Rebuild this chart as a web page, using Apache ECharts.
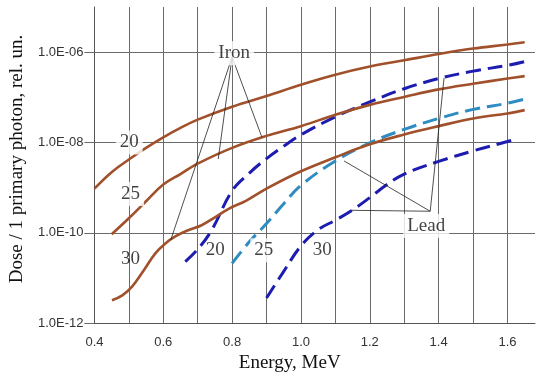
<!DOCTYPE html>
<html>
<head>
<meta charset="utf-8">
<script src="https://cdn.jsdelivr.net/npm/echarts@6/dist/echarts.min.js"></script>
<style>
html,body{margin:0;padding:0;background:#fff;}
#chart{width:538px;height:378px;}
</style>
</head>
<body>
<div id="chart"></div>
<script>
// ---- Data (Energy in MeV, dose per primary photon, rel. un.) ----
const iron20E    = [0.40, 0.45, 0.50, 0.55, 0.60, 0.65, 0.70, 0.80, 0.90, 1.00, 1.10, 1.20, 1.30, 1.40, 1.50, 1.60, 1.65];
const iron20Dose = [9.5e-10, 2.2e-9, 4.2e-9, 7.6e-9, 1.3e-8, 2.1e-8, 3.2e-8, 6.2e-8, 1.07e-7, 1.9e-7, 3.16e-7, 4.8e-7, 6.6e-7, 9.1e-7, 1.2e-6, 1.48e-6, 1.66e-6];

const iron25E    = [0.45, 0.50, 0.55, 0.60, 0.65, 0.70, 0.80, 0.90, 1.00, 1.10, 1.20, 1.30, 1.40, 1.50, 1.60, 1.65];
const iron25Dose = [9.3e-11, 2.1e-10, 5.0e-10, 1.17e-9, 2.0e-9, 3.4e-9, 7.6e-9, 1.4e-8, 2.3e-8, 4.1e-8, 6.8e-8, 1.02e-7, 1.5e-7, 2.0e-7, 2.6e-7, 2.95e-7];

const iron30E    = [0.451, 0.481, 0.510, 0.544, 0.577, 0.606, 0.635, 0.67, 0.71, 0.75, 0.79, 0.84, 0.90, 1.00, 1.10, 1.20, 1.30, 1.40, 1.50, 1.60, 1.65];
const iron30Dose = [3.2e-12, 4.1e-12, 6.5e-12, 1.5e-11, 3.5e-11, 5.8e-11, 8.3e-11, 1.12e-10, 1.45e-10, 2.2e-10, 3.4e-10, 5.1e-10, 9.5e-10, 2.3e-9, 4.7e-9, 9.1e-9, 1.5e-8, 2.3e-8, 3.4e-8, 4.4e-8, 5.2e-8];

const lead20E    = [0.664, 0.70, 0.74, 0.80, 0.85, 0.90, 0.95, 1.00, 1.10, 1.20, 1.30, 1.40, 1.50, 1.60, 1.65];
const lead20Dose = [2.3e-11, 4.3e-11, 1.12e-10, 8.5e-10, 2.1e-9, 4.4e-9, 8.3e-9, 1.48e-8, 3.7e-8, 7.9e-8, 1.55e-7, 2.6e-7, 3.8e-7, 5.1e-7, 6.2e-7];

const lead25E    = [0.80, 0.85, 0.90, 0.95, 1.00, 1.10, 1.20, 1.30, 1.40, 1.50, 1.60, 1.65];
const lead25Dose = [2.1e-11, 6.3e-11, 1.6e-10, 4.4e-10, 1.12e-9, 3.9e-9, 9.8e-9, 1.95e-8, 3.4e-8, 5.4e-8, 7.4e-8, 9.1e-8];

const lead30E    = [0.90, 0.95, 1.00, 1.05, 1.10, 1.15, 1.20, 1.25, 1.30, 1.40, 1.50, 1.60, 1.617];
const lead30Dose = [3.6e-12, 1.4e-11, 5.1e-11, 1.17e-10, 1.9e-10, 3.2e-10, 6.0e-10, 1.17e-9, 2.0e-9, 3.8e-9, 6.5e-9, 1.05e-8, 1.15e-8];

// Annotation texts and their anchor points (data coordinates)
const noteTexts = ['Iron', 'Lead', '20', '25', '30', '20', '25', '30'];
const noteE     = [0.806, 1.364, 0.501, 0.505, 0.505, 0.751, 0.892, 1.062];
const noteDose  = [9.5e-7, 1.41e-10, 1.0e-8, 7.2e-10, 2.6e-11, 4.2e-11, 4.1e-11, 4.1e-11];
const noteBoxed = [true, true, true, true, false, false, true, false];

// Leader lines: apex -> end points (data coordinates)
const ironApex  = [0.80, 7.8e-7];
const ironEndsE = [0.6216, 0.7597, 0.8863];
const ironEndsD = [6.9e-11, 4.3e-9, 1.32e-8];
const leadApex  = [1.3755, 3.0e-10];
const leadEndsE = [1.4158, 1.1252, 1.1453];
const leadEndsD = [2.7e-7, 3.9e-9, 3.15e-10];

// Axis ticks / labels
const yLabelValues = [1e-12, 1e-10, 1e-8, 1e-6];

const SERIF = '"Liberation Serif", "Times New Roman", serif';
const SANS = '"Liberation Sans", Arial, sans-serif';
const IRON = '#A0502A';
const LEAD_DARK = '#1C1CB0';
const LEAD_LIGHT = '#2E8CC2';

const zip = (xs, ys) => xs.map((x, i) => [x, ys[i]]);

function curve(name, xs, ys, color, dashed) {
  return {
    name: name, type: 'line', data: zip(xs, ys), smooth: 0.4, symbol: 'none',
    lineStyle: { color: color, width: dashed ? 3 : 2.6, type: dashed ? [15, 7] : 'solid', cap: 'butt' },
    z: dashed ? 3 : 4, silent: true
  };
}

function leaders(apex, es, ds) {
  return es.map((e, i) => [{ coord: apex }, { coord: [e, ds[i]] }]);
}

const chart = echarts.init(document.getElementById('chart'), null, { renderer: 'canvas' });

const expLabel = v => {
  const e = Math.round(Math.log10(v));
  if (e % 2 !== 0) return '';
  const a = Math.abs(e);
  return '1.0E' + (e < 0 ? '-' : '+') + (a < 10 ? '0' + a : '' + a);
};

chart.setOption({
  backgroundColor: '#ffffff',
  animation: false,
  grid: { left: 93, right: 0, top: 7, bottom: 51, containLabel: false },
  xAxis: {
    type: 'value', min: 0.4, max: 1.68, interval: 0.1,
    name: 'Energy, MeV', nameLocation: 'middle', nameGap: 30,
    nameTextStyle: { fontFamily: SERIF, fontSize: 19, color: '#111', padding: [0, 50, 0, 0] },
    axisLine: { show: true, lineStyle: { color: '#555', width: 1 } },
    axisTick: { show: false },
    axisLabel: {
      fontFamily: SANS, fontSize: 13, color: '#333', margin: 13,
      formatter: v => { const k = Math.round(v * 10); return (Math.abs(v * 10 - k) < 1e-6 && k % 2 === 0) ? (k / 10).toFixed(1) : ''; }
    },
    splitLine: { show: true, showMaxLine: false, lineStyle: { color: '#6a6a6a', width: 1 } }
  },
  yAxis: {
    type: 'log', logBase: 10, min: 1e-12, max: 1e-5,
    name: 'Dose / 1 primary photon, rel. un.', nameLocation: 'middle', nameGap: 66,
    nameTextStyle: { fontFamily: SERIF, fontSize: 19, color: '#111', padding: [0, 0, 0, 12] },
    axisLine: { show: true, lineStyle: { color: '#555', width: 1 } },
    axisTick: { show: true, inside: false, length: 10, lineStyle: { color: '#6a6a6a' }, customValues: yLabelValues },
    axisLabel: { fontFamily: SANS, fontSize: 13, color: '#333', margin: 11, formatter: expLabel },
    splitLine: { show: true, lineStyle: { color: '#6a6a6a', width: 1 } }
  },
  series: [
    curve('Iron 20', iron20E, iron20Dose, IRON, false),
    curve('Iron 25', iron25E, iron25Dose, IRON, false),
    curve('Iron 30', iron30E, iron30Dose, IRON, false),
    curve('Lead 20', lead20E, lead20Dose, LEAD_DARK, true),
    curve('Lead 25', lead25E, lead25Dose, LEAD_LIGHT, true),
    curve('Lead 30', lead30E, lead30Dose, LEAD_DARK, true),
    {
      name: 'leaders', type: 'line', data: [], silent: true, z: 2,
      markLine: {
        silent: true, symbol: ['none', 'none'], animation: false,
        label: { show: false },
        lineStyle: { color: '#222', width: 0.8, type: 'solid' },
        data: leaders(ironApex, ironEndsE, ironEndsD).concat(leaders(leadApex, leadEndsE, leadEndsD))
      }
    },
    {
      name: 'notes', type: 'scatter', symbolSize: 0, silent: true, z: 10,
      data: noteTexts.map((t, i) => ({
        value: [noteE[i], noteDose[i]], name: t,
        label: noteBoxed[i] ? { backgroundColor: '#ffffff', padding: [3, 4, 2, 4] } : { padding: [3, 4, 2, 4] }
      })),
      label: {
        show: true, position: 'inside', formatter: '{b}',
        fontFamily: SERIF, fontSize: 19, color: '#111'
      }
    }
  ]
});
</script>
</body>
</html>
